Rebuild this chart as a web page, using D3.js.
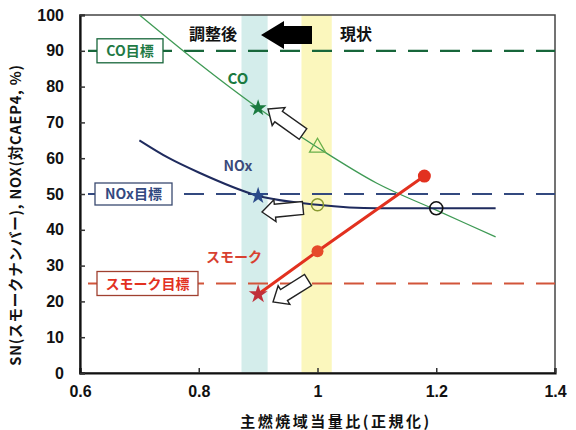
<!DOCTYPE html>
<html><head><meta charset="utf-8">
<script src="https://cdn.jsdelivr.net/npm/d3@7/dist/d3.min.js"></script>
<style>
body{margin:0;background:#fff;}
svg{display:block;}
.num{font-family:"Liberation Sans Narrow","Liberation Sans",Arial,sans-serif;font-weight:bold;font-size:16px;fill:#111;}
.jp{font-family:"Noto Sans CJK JP",sans-serif;font-weight:bold;}
</style></head>
<body>
<svg id="c" width="576" height="430"></svg>
<script>
// ---- data ----
const xTicks = [0.6, 0.8, 1.0, 1.2, 1.4];
const xTickLabels = ["0.6", "0.8", "1", "1.2", "1.4"];
const yTicks = [0, 10, 20, 30, 40, 50, 60, 70, 80, 90, 100];

const coX = [0.7, 0.8, 0.9, 1.0, 1.1, 1.2, 1.3];
const coY = [100, 86.5, 74, 63, 53, 45.5, 38];
const noxX = [0.7, 0.75, 0.8, 0.9, 1.0, 1.1, 1.2, 1.3];
const noxY = [65, 60, 56, 49.5, 47, 46, 46, 46];
const smokeX = [0.9, 1.0, 1.18];
const smokeY = [22, 34, 55];

const targets = [
  {name: "CO目標", value: 90},
  {name: "NOx目標", value: 50},
  {name: "スモーク目標", value: 25}
];
const adjustedBand = [0.872, 0.916];
const currentBand = [0.973, 1.024];

const xLabel = "主燃焼域当量比(正規化)";
const yLabel = "SN(スモークナンバー), NOX(対CAEP4, %)";

// ---- layout ----
const svg = d3.select("#c");
const L = 80, R = 555, T = 15, B = 373;
const x = d3.scaleLinear().domain([0.6, 1.4]).range([L, R]);
const y = d3.scaleLinear().domain([0, 100]).range([B, T]);

const cCO = "#3f9a55", cCOd = "#17663a", cNOx = "#1f2b5e", cNOxD = "#33497f", cSm = "#e2311f", cSmD = "#d2553a";

// bands
svg.append("rect").attr("x", x(adjustedBand[0])).attr("y", T).attr("width", x(adjustedBand[1]) - x(adjustedBand[0])).attr("height", B - T).attr("fill", "#d4edeb");
svg.append("rect").attr("x", x(currentBand[0])).attr("y", T).attr("width", x(currentBand[1]) - x(currentBand[0])).attr("height", B - T).attr("fill", "#fbf7bd");

// frame
svg.append("rect").attr("x", L).attr("y", T).attr("width", R - L).attr("height", B - T).attr("fill", "none").attr("stroke", "#444").attr("stroke-width", 1.5);

// axes
const gx = svg.append("g").attr("transform", `translate(0,${B})`)
  .call(d3.axisBottom(x).tickValues(xTicks).tickFormat((d, i) => xTickLabels[i]).tickSize(-5).tickPadding(13));
const gy = svg.append("g").attr("transform", `translate(${L},0)`)
  .call(d3.axisLeft(y).tickValues(yTicks).tickSize(-5).tickPadding(16));
[gx, gy].forEach(g => {
  g.select(".domain").attr("stroke", "#111").attr("stroke-width", 2.2);
  g.selectAll(".tick line").attr("stroke", "#333").attr("stroke-width", 1.5);
  g.selectAll(".tick text").attr("class", "num");
});

// target lines
const tColors = [cCOd, cNOxD, cSmD];
targets.forEach((t, i) => {
  svg.append("line").attr("x1", L).attr("x2", R).attr("y1", y(t.value)).attr("y2", y(t.value))
    .attr("stroke", tColors[i]).attr("stroke-width", 2.2).attr("stroke-dasharray", "20,12").attr("stroke-dashoffset", -8);
});

// curves
const line = d3.line().x(d => x(d[0])).y(d => y(d[1]));
svg.append("path").attr("d", line.curve(d3.curveMonotoneX)(coX.map((v, i) => [v, coY[i]])))
  .attr("fill", "none").attr("stroke", cCO).attr("stroke-width", 1.3);
svg.append("path").attr("d", line.curve(d3.curveMonotoneX)(noxX.map((v, i) => [v, noxY[i]])))
  .attr("fill", "none").attr("stroke", cNOx).attr("stroke-width", 2);
svg.append("path").attr("d", d3.line().x(d => x(d[0])).y(d => y(d[1]))(smokeX.map((v, i) => [v, smokeY[i]])))
  .attr("fill", "none").attr("stroke", cSm).attr("stroke-width", 3);

// target boxes
const boxes = [
  {x0: 97, w: 66, h: 24, col: cCOd, tc: "#1f7a45"},
  {x0: 95, w: 77, h: 22, col: "#3a4a70", tc: cNOxD},
  {x0: 97, w: 101, h: 24, col: "#a04030", tc: cSm}
];
targets.forEach((t, i) => {
  const b = boxes[i];
  const cy = y(t.value);
  svg.append("rect").attr("x", b.x0).attr("y", cy - b.h / 2).attr("width", b.w).attr("height", b.h)
    .attr("fill", "#fff").attr("stroke", b.col).attr("stroke-width", 1.3);
  svg.append("text").attr("class", "jp").attr("x", b.x0 + b.w / 2).attr("y", cy + 5).attr("text-anchor", "middle")
    .attr("font-size", 14).attr("fill", b.tc).text(t.name);
});

// markers
const star = d3.symbol().type(d3.symbolStar);
svg.append("path").attr("d", star.size(90)()).attr("transform", `translate(${x(coX[2])},${y(coY[2])})`).attr("fill", "#1a7a40");
svg.append("path").attr("d", star.size(90)()).attr("transform", `translate(${x(noxX[3])},${y(noxY[3])})`).attr("fill", "#2a4a8a");
svg.append("path").attr("d", star.size(110)()).attr("transform", `translate(${x(smokeX[0])},${y(smokeY[0])})`).attr("fill", "#c0303a");
svg.append("path").attr("d", d3.symbol().type(d3.symbolTriangle).size(110)()).attr("transform", `translate(${x(coX[3])},${y(coY[3])})`)
  .attr("fill", "none").attr("stroke", "#6ab04a").attr("stroke-width", 1.3);
svg.append("circle").attr("cx", x(noxX[4])).attr("cy", y(noxY[4])).attr("r", 6).attr("fill", "none").attr("stroke", "#8a9a30").attr("stroke-width", 1.5);
svg.append("circle").attr("cx", x(noxX[6])).attr("cy", y(noxY[6])).attr("r", 6.5).attr("fill", "none").attr("stroke", "#111").attr("stroke-width", 1.6);
svg.append("circle").attr("cx", x(smokeX[1])).attr("cy", y(smokeY[1])).attr("r", 6).attr("fill", "#e64a2a");
svg.append("circle").attr("cx", x(smokeX[2])).attr("cy", y(smokeY[2])).attr("r", 6.5).attr("fill", cSm);

// series labels
svg.append("text").attr("class", "jp").attr("x", 238).attr("y", 84).attr("text-anchor", "middle").attr("font-size", 15).attr("fill", "#1a7a40").text("CO");
svg.append("text").attr("class", "jp").attr("x", 238).attr("y", 171).attr("text-anchor", "middle").attr("font-size", 14).attr("fill", "#3a4a7a").text("NOx");
svg.append("text").attr("class", "jp").attr("x", 234).attr("y", 262).attr("text-anchor", "middle").attr("font-size", 14).attr("fill", "#d84030").text("スモーク");

// hollow arrows
function blockArrow(tip, tail) {
  const dx = tail[0] - tip[0], dy = tail[1] - tip[1];
  const len = Math.hypot(dx, dy), ang = Math.atan2(dy, dx) * 180 / Math.PI;
  const hl = 13, hw = 11, sw = 6.5;
  const p = [[0, 0], [hl, -hw], [hl, -sw], [len, -sw], [len, sw], [hl, sw], [hl, hw]];
  svg.append("path").attr("d", "M" + p.map(q => q.join(",")).join("L") + "Z")
    .attr("transform", `translate(${tip[0]},${tip[1]}) rotate(${ang})`)
    .attr("fill", "#fff").attr("stroke", "#222").attr("stroke-width", 1.4);
}
blockArrow([268, 109], [303, 134]);
blockArrow([262, 212], [303, 208]);
blockArrow([273, 302], [308, 280]);

// top annotation
svg.append("text").attr("class", "jp").attr("x", 213).attr("y", 40).attr("text-anchor", "middle").attr("font-size", 16).attr("fill", "#111").text("調整後");
svg.append("text").attr("class", "jp").attr("x", 356).attr("y", 40).attr("text-anchor", "middle").attr("font-size", 16).attr("fill", "#111").text("現状");
svg.append("path").attr("d", "M261,35 L284,21 L284,26 L312,26 L312,44 L284,44 L284,49 Z").attr("fill", "#000");

// axis titles
svg.append("text").attr("class", "jp").attr("x", 336).attr("y", 427).attr("text-anchor", "middle").attr("font-size", 15).attr("letter-spacing", 2.5).attr("fill", "#111").text(xLabel);
svg.append("text").attr("class", "jp").attr("transform", "translate(21,215) rotate(-90)").attr("text-anchor", "middle").attr("font-size", 14.5).attr("letter-spacing", 0.8).attr("fill", "#111").text(yLabel);
</script>
</body></html>
